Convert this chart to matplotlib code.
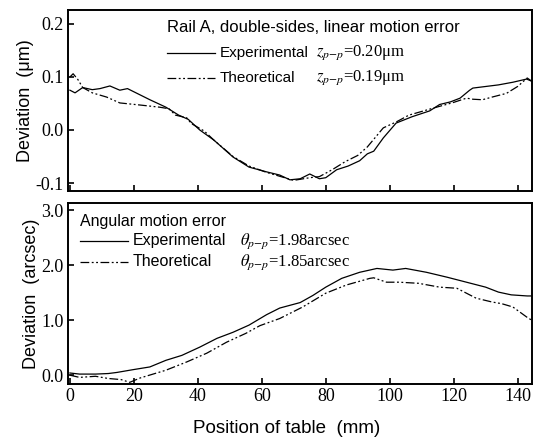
import matplotlib
matplotlib.use('Agg')
import matplotlib.pyplot as plt
import numpy as np

plt.rcParams['mathtext.fontset'] = 'stix'

# linear motion error (um)
lin_exp_x = [0, 1.6, 4, 7, 9.4, 12.5, 15.6, 18, 20, 22, 25, 30, 34, 37, 40.6, 45, 51, 56, 61.5,
             65.6, 68.8, 72, 75, 78, 80, 83.4, 87, 90.6, 93, 95, 98, 102, 107, 112.5, 115.6,
             119, 122, 125, 126, 130, 134, 138.5, 142.8, 144.4]
lin_exp_y = [0.075, 0.070, 0.080, 0.076, 0.078, 0.083, 0.075, 0.078, 0.072, 0.066, 0.057, 0.043,
             0.028, 0.020, 0.0, -0.019, -0.051, -0.070, -0.079, -0.085, -0.094, -0.092, -0.083,
             -0.092, -0.090, -0.075, -0.068, -0.058, -0.045, -0.040, -0.015, 0.013, 0.025, 0.036,
             0.048, 0.053, 0.060, 0.075, 0.079, 0.082, 0.085, 0.090, 0.096, 0.092]
lin_th_x = [0, 1, 2.5, 4, 7, 11.5, 15.6, 22, 28, 31, 33, 36.5, 38, 42, 45, 51, 56, 61.5, 66, 70,
            75, 78, 82, 86, 90, 93, 98, 102, 106, 113.5, 120, 124, 126, 129, 132, 136.5, 140,
            143, 144.4]
lin_th_y = [0.100, 0.106, 0.095, 0.080, 0.070, 0.062, 0.051, 0.047, 0.043, 0.040, 0.028, 0.023,
            0.012, -0.002, -0.019, -0.050, -0.068, -0.080, -0.088, -0.095, -0.090, -0.088,
            -0.075, -0.060, -0.048, -0.032, 0.004, 0.015, 0.028, 0.041, 0.052, 0.060, 0.058,
            0.057, 0.062, 0.069, 0.082, 0.098, 0.092]

# angular motion error (arcsec)
ang_exp_x = [0, 3, 8, 12, 14.7, 19.7, 25, 30, 35, 40.6, 46, 51, 56, 61.5, 65.6, 72, 76, 80, 85,
             90.6, 96, 101, 105, 111.5, 118, 124, 130, 134, 138, 143, 144.4]
ang_exp_y = [0.04, 0.02, 0.02, 0.03, 0.05, 0.10, 0.15, 0.27, 0.36, 0.51, 0.67, 0.78, 0.91, 1.10,
             1.22, 1.32, 1.45, 1.60, 1.76, 1.87, 1.94, 1.91, 1.94, 1.87, 1.78, 1.69, 1.60, 1.51,
             1.46, 1.44, 1.44]
ang_th_x = [0, 3, 8, 12, 16, 18.7, 22, 26, 30, 36.5, 42.8, 49, 55, 59.4, 65.6, 72.8, 80, 86.5,
            93.8, 95, 99, 103, 109, 115.6, 121, 127, 132, 135, 138.5, 143, 144.4]
ang_th_y = [0.00, -0.04, -0.02, -0.06, -0.08, -0.13, -0.05, 0.02, 0.09, 0.24, 0.40, 0.60, 0.76,
            0.90, 1.03, 1.24, 1.49, 1.64, 1.76, 1.77, 1.69, 1.69, 1.67, 1.60, 1.58, 1.40, 1.33,
            1.30, 1.24, 1.05, 1.00]

dashdot = (0, (7, 2, 1.5, 2, 1.5, 2))
serif = 'Liberation Serif'
sans = 'Liberation Sans'

fig = plt.figure(figsize=(5.41, 4.40), dpi=100)
ax1 = fig.add_axes([0.1257, 0.566, 0.8577, 0.411])
ax2 = fig.add_axes([0.1257, 0.1273, 0.8577, 0.4114])

ax1.plot(lin_exp_x, lin_exp_y, color='black', lw=0.9)
ax1.plot(lin_th_x, lin_th_y, color='black', lw=0.9, ls=dashdot)
ax2.plot(ang_exp_x, ang_exp_y, color='black', lw=0.9)
ax2.plot(ang_th_x, ang_th_y, color='black', lw=0.9, ls=dashdot)

ax1.set_ylim(-0.115, 0.226)
ax1.set_yticks([-0.1, 0.0, 0.1, 0.2])
ax1.set_yticklabels(['-0.1', '0.0', '0.1', '0.2'])
ax2.set_ylim(-0.16, 3.13)
ax2.set_yticks([0, 1, 2, 3])
ax2.set_yticklabels(['0.0', '1.0', '2.0', '3.0'])

for ax in (ax1, ax2):
    ax.set_xlim(-0.6, 144.5)
    ax.set_xticks(range(0, 141, 20))
    ax.tick_params(direction='in', length=4, width=1.2, labelsize=13, pad=3)
    for lab in ax.get_yticklabels() + ax.get_xticklabels():
        lab.set_fontfamily(serif)
    for s in ax.spines.values():
        s.set_linewidth(1.4)
ax1.tick_params(labelbottom=False)

ax1.set_ylabel('Deviation  (μm)', fontfamily=sans, fontsize=13, labelpad=1)
ax2.set_ylabel('Deviation  (arcsec)', fontfamily=sans, fontsize=13, labelpad=1)
ax2.set_xlabel('Position of table  (mm)', fontfamily=sans, fontsize=13.5)
ax2.xaxis.set_label_coords(0.472, -0.2)

# in-plot legends
def key(ax, x0, x1, y, ls):
    ax.plot([x0, x1], [y, y], color='black', lw=0.9, ls=ls, transform=ax.transAxes)

ax1.text(0.214, 0.905, 'Rail A, double-sides, linear motion error', transform=ax1.transAxes,
         fontfamily=sans, fontsize=12, va='center')
key(ax1, 0.214, 0.317, 0.765, '-')
key(ax1, 0.214, 0.317, 0.627, dashdot)
ax1.text(0.327, 0.765, 'Experimental', transform=ax1.transAxes, fontfamily=sans, fontsize=11, va='center')
ax1.text(0.327, 0.627, 'Theoretical', transform=ax1.transAxes, fontfamily=sans, fontsize=11, va='center')
ax1.text(0.535, 0.765, r'$z_{p\mathrm{-}p}$=0.20μm', transform=ax1.transAxes,
         fontfamily=serif, fontsize=12, va='center')
ax1.text(0.535, 0.627, r'$z_{p\mathrm{-}p}$=0.19μm', transform=ax1.transAxes,
         fontfamily=serif, fontsize=12, va='center')

ax2.text(0.026, 0.895, 'Angular motion error', transform=ax2.transAxes,
         fontfamily=sans, fontsize=11.5, va='center')
key(ax2, 0.026, 0.129, 0.79, '-')
key(ax2, 0.026, 0.129, 0.674, dashdot)
ax2.text(0.139, 0.79, 'Experimental', transform=ax2.transAxes, fontfamily=sans, fontsize=11.5, va='center')
ax2.text(0.139, 0.674, 'Theoretical', transform=ax2.transAxes, fontfamily=sans, fontsize=11.5, va='center')
ax2.text(0.37, 0.79, r'$\theta_{p\mathrm{-}p}$=1.98arcsec', transform=ax2.transAxes,
         fontfamily=serif, fontsize=12, va='center')
ax2.text(0.37, 0.674, r'$\theta_{p\mathrm{-}p}$=1.85arcsec', transform=ax2.transAxes,
         fontfamily=serif, fontsize=12, va='center')

fig.savefig('out.png', dpi=100)
